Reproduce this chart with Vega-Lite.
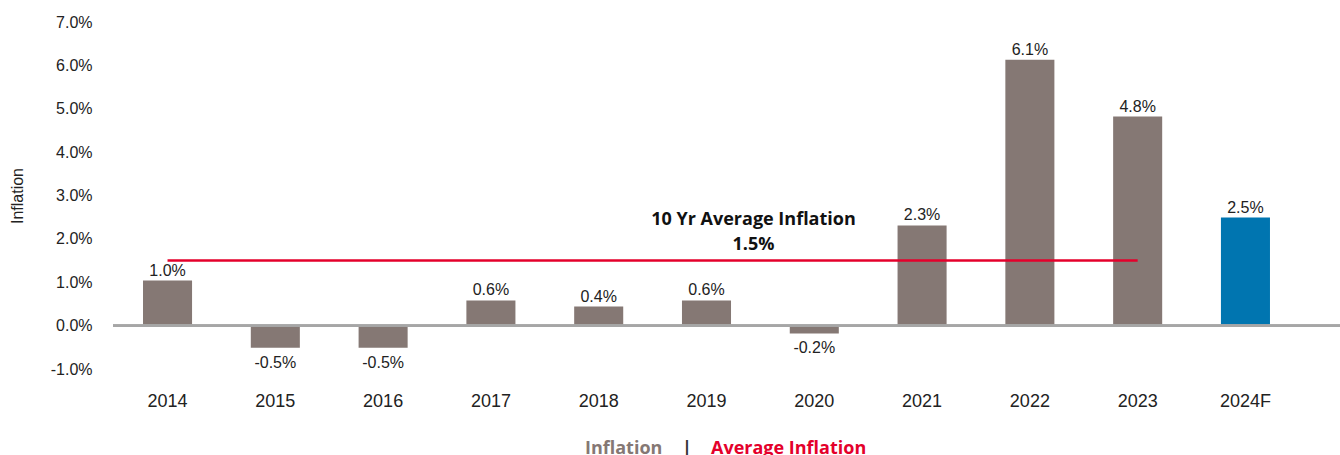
{
  "$schema": "https://vega.github.io/schema/vega-lite/v6.json",
  "width": 1227,
  "height": 347,
  "autosize": {"type": "none"},
  "padding": {"left": 113, "top": 22, "right": 0, "bottom": 86},
  "background": "white",
  "config": {
    "view": {"stroke": null},
    "font": "Liberation Sans",
    "axis": {"grid": false, "domain": false, "ticks": false, "labelColor": "#222222", "titleColor": "#222222"}
  },
  "datasets": {
    "bars": [
      {"year": "2014", "value": 1.04, "label": "1.0%"},
      {"year": "2015", "value": -0.51, "label": "-0.5%"},
      {"year": "2016", "value": -0.51, "label": "-0.5%"},
      {"year": "2017", "value": 0.58, "label": "0.6%"},
      {"year": "2018", "value": 0.44, "label": "0.4%"},
      {"year": "2019", "value": 0.58, "label": "0.6%"},
      {"year": "2020", "value": -0.18, "label": "-0.2%"},
      {"year": "2021", "value": 2.31, "label": "2.3%"},
      {"year": "2022", "value": 6.13, "label": "6.1%"},
      {"year": "2023", "value": 4.82, "label": "4.8%"},
      {"year": "2024F", "value": 2.49, "label": "2.5%"}
    ],
    "avg": [{"start": "2014", "end": "2023", "avg": 1.5}],
    "legend": [{"s": "Inflation"}, {"s": "|"}, {"s": "Average Inflation"}]
  },
  "layer": [
    {
      "data": {"name": "bars"},
      "mark": {"type": "bar"},
      "encoding": {
        "x": {
          "field": "year", "type": "nominal", "sort": null,
          "scale": {"paddingInner": 0.545, "paddingOuter": 0.464, "align": 0.3},
          "axis": {"title": null, "labelAngle": 0, "labelFontSize": 18, "labelPadding": 23}
        },
        "y": {
          "field": "value", "type": "quantitative",
          "scale": {"domain": [-1, 7], "nice": false, "zero": false},
          "axis": {
            "title": "Inflation", "values": [-1, 0, 1, 2, 3, 4, 5, 6, 7],
            "labelExpr": "(datum.value < 0 ? '-' : '') + format(abs(datum.value), '.1f') + '%'",
            "labelFontSize": 16, "labelPadding": 21,
            "titleFontSize": 16, "titleFontWeight": "normal", "titlePadding": 25
          }
        },
        "color": {
          "condition": {"test": "datum.year === '2024F'", "value": "#0075b0"},
          "value": "#857874"
        }
      }
    },
    {
      "data": {"name": "bars"},
      "mark": {"type": "rule", "color": "#a6a6a6", "strokeWidth": 2},
      "encoding": {"y": {"datum": 0, "type": "quantitative"}}
    },
    {
      "data": {"name": "bars"},
      "transform": [{"filter": "datum.value >= 0"}],
      "mark": {"type": "text", "baseline": "alphabetic", "dy": -5, "fontSize": 16, "color": "#222222"},
      "encoding": {
        "x": {"field": "year", "type": "nominal", "sort": null},
        "y": {"field": "value", "type": "quantitative"},
        "text": {"field": "label", "type": "nominal"}
      }
    },
    {
      "data": {"name": "bars"},
      "transform": [{"filter": "datum.value < 0"}],
      "mark": {"type": "text", "baseline": "top", "dy": 7, "fontSize": 16, "color": "#222222"},
      "encoding": {
        "x": {"field": "year", "type": "nominal", "sort": null},
        "y": {"field": "value", "type": "quantitative"},
        "text": {"field": "label", "type": "nominal"}
      }
    },
    {
      "data": {"name": "avg"},
      "mark": {"type": "rule", "color": "#e4002b", "strokeWidth": 2.5},
      "encoding": {
        "x": {"field": "start", "type": "nominal", "sort": null},
        "x2": {"field": "end"},
        "y": {"field": "avg", "type": "quantitative"}
      }
    },
    {
      "data": {"name": "avg"},
      "mark": {
        "type": "text", "text": ["10 Yr Average Inflation", "1.5%"],
        "font": "Open Sans", "fontWeight": "bold", "fontSize": 18,
        "lineHeight": 25, "baseline": "bottom", "dy": -32, "dx": 47, "color": "#111111"
      },
      "encoding": {
        "x": {"datum": "2019", "type": "nominal"},
        "y": {"field": "avg", "type": "quantitative"}
      }
    },
    {
      "data": {"name": "legend"},
      "mark": {"type": "point", "opacity": 0},
      "encoding": {
        "color": {
          "field": "s", "type": "nominal",
          "scale": {"domain": ["Inflation", "|", "Average Inflation"], "range": ["#857874", "#333333", "#e4002b"]},
          "legend": {
            "title": null, "orient": "none", "direction": "horizontal",
            "legendX": 454, "legendY": 418,
            "symbolSize": 0, "symbolOpacity": 0, "symbolStrokeWidth": 0,
            "labelOffset": 0, "columnPadding": 1,
            "labelFont": "Open Sans", "labelFontWeight": "bold", "labelFontSize": 18,
            "labelLimit": 400,
            "labelColor": {"expr": "datum.value === 'Average Inflation' ? '#e4002b' : datum.value === '|' ? '#333333' : '#857874'"}
          }
        }
      }
    }
  ]
}
